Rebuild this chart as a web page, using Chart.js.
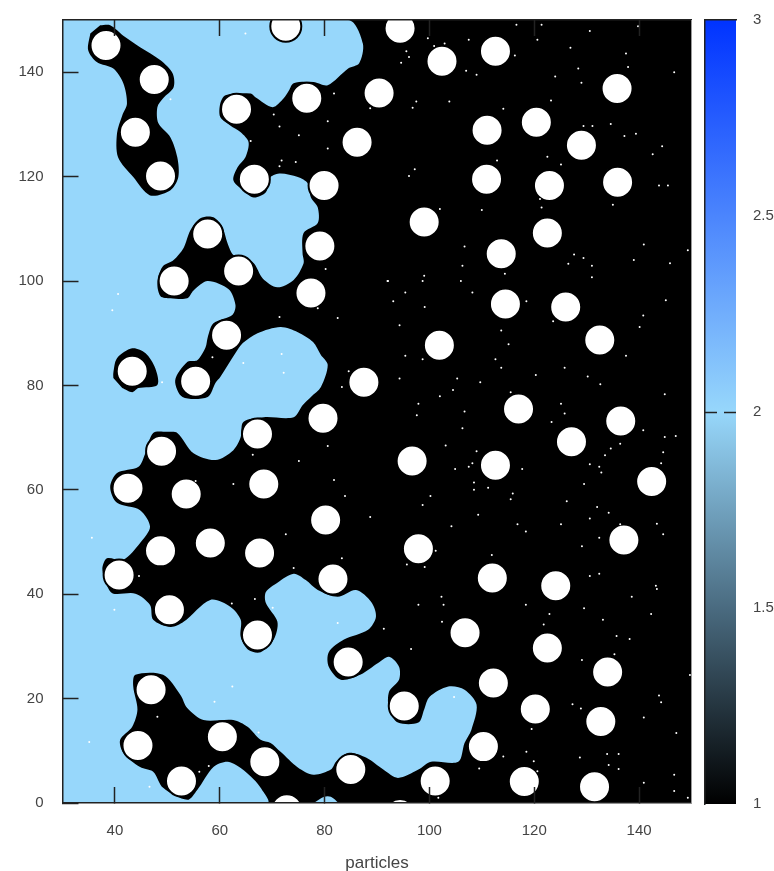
<!DOCTYPE html>
<html>
<head>
<meta charset="utf-8">
<style>
  html, body { margin: 0; background: #fff; overflow: hidden; }
  #wrap { position: relative; width: 774px; height: 871px; overflow: hidden; }
  #plot { position: absolute; left: 0; top: 0; }
  #bar { position: absolute; left: 690px; top: 0; }
</style>
<script src="https://cdn.jsdelivr.net/npm/chart.js@4/dist/chart.umd.min.js"></script>
</head>
<body>
<div id="wrap">
  <canvas id="plot" width="709" height="871" style="width:709px;height:871px"></canvas>
  <canvas id="bar" width="84" height="871" style="width:84px;height:871px"></canvas>
</div>
<script>
const xTicks = [40, 60, 80, 100, 120, 140];
const yTicks = [0, 20, 40, 60, 80, 100, 120, 140];
const barTicks = [1, 1.5, 2, 2.5, 3];
const barStops = [1, 1.5, 2, 2.5, 3];
const barColors = ['#000000', '#4a6b80', '#97d7fb', '#4b85fd', '#0033ff'];

// corners of the field, value 1 everywhere unless covered
const fieldCorners = [[30,0],[150,0],[150,150],[30,150]];

// outline of the value 2 region
const mainRegion = [
  [30,150],[84.5,150],[87.3,145.5],[86.6,141.7],[84.5,140.7],[80.6,137.5],[77.9,138.1],[74.1,137.9],[73.2,136.5],[72.2,135],
  [70.1,133.3],[66.8,135.2],[65.9,135.9],[61.1,135.6],[60.1,134],[60.1,131.4],[62,129.8],[64,128.5],[65.5,126.6],[64.9,123.7],
  [63.4,121.8],[62.6,119.3],[64.4,117.4],[66.5,116],[68.8,117],[69.7,119.9],[71.6,120.6],[74.9,119.9],[76.8,118.7],[77.4,116],
  [78.7,114.1],[78.7,111.1],[76,109.2],[75.8,105.3],[76,103.4],[74.1,100.2],[71,98.8],[68.2,100.5],[66.5,103.4],[64.5,104.6],
  [62.6,105],[61.5,107.2],[60.5,110.3],[58.8,112.2],[56.3,112],[54.4,109.7],[53.1,106.3],[51.2,104],[49.05,102.7],[48.1,99.6],
  [48.7,97.1],[50.6,96.7],[53.8,96.7],[55,98.2],[57.7,100],[61.7,98.4],[63,95.4],[62.4,93.5],[58.8,91.9],[57.7,89.2],
  [57.3,87.3],[55.7,84.8],[53.8,84.5],[51.5,81],[52.9,77.8],[57.7,77.8],[59.2,80.5],[60.1,81.6],[63,86.2],[64.4,88.1],
  [67.2,90],[71.6,91.2],[74.9,90.2],[77.8,88.3],[79.3,85.8],[80.6,83.9],[79.3,79.7],[77.4,77.8],[75.8,76.2],[74.1,73.9],
  [68.4,73.9],[64.5,73],[64,70.1],[62.6,67.6],[59.2,65.7],[55,67],[51.9,70.9],[50,71.1],[47.3,70.9],[45.8,67],
  [44.5,64.4],[40.4,63.2],[39.1,60.5],[40.4,57.5],[44.8,56.1],[46.7,52.9],[44.8,49.8],[41.6,46.6],[38.5,46.9],[37.6,45],
  [38.1,42.7],[39.5,40.2],[43.9,40.1],[46.7,37.95],[47.3,35.1],[50.6,33.7],[53.1,34.7],[58.2,38.9],[62,37.6],[64,35.1],
  [64,31.8],[65.5,29.3],[67.8,28.9],[70.3,31.3],[71,34.7],[68.8,38.3],[68.8,40.4],[71,42.2],[74.1,43.9],[76.4,42.7],
  [78.7,40.8],[82.5,39.5],[86,40.8],[88.9,38.5],[89.8,35.7],[88.3,33.2],[83.7,31.3],[80.8,28.9],[80.8,26.1],[83.1,23.6],
  [86.9,24.6],[90.2,26.8],[92.3,28],[94.2,26.1],[94.2,23.6],[92.3,21.3],[92.3,17.9],[94,15.4],[97.9,15.4],[99,17.9],
  [100,20.3],[103.6,22.3],[106.7,21.7],[109,18.8],[108,14],[106.7,11.5],[105.5,7.9],[100.3,7.9],[97.9,6.4],[94,4.8],
  [91.2,6.4],[87.9,8.7],[84.5,9.6],[82.2,7.9],[81.2,6.4],[77.9,5.4],[74.9,6.8],[71.6,9.8],[69.7,11.5],[67.8,12.1],
  [65.3,14.6],[62.6,15.9],[56.9,15.9],[53.8,18.2],[52.5,20.7],[49.2,24.55],[43.9,24.55],[43.5,22.3],[44.3,17.9],[43.3,14.6],
  [41,12.1],[41.6,9.6],[44.8,6.9],[47.3,6],[49.2,2.9],[53.8,0.6],[55.7,2.5],[58.8,6.9],[61.5,7.9],[64,6.7],
  [66.5,4.5],[67.8,2.9],[69.1,0],[30,0]
];
const smallRegion = [[77.9,0],[79.9,1.2],[81.2,1.2],[82.7,0]];

// islands of value 1 inside the region
const islandTop = [
  [37.2,149],[39.1,149],[41.6,147],[44.8,144.8],[48.7,142.3],[51,139.8],[51.2,137.1],[49.2,135],[48.1,133.3],[48.3,130.2],
  [50.6,127.5],[51.9,123.7],[52.1,119.9],[50.6,117.4],[46.7,116.4],[43.5,119.9],[40.6,123.7],[40.4,128.3],[41.4,131.7],[42.3,134],
  [41.6,137.9],[39.7,140.7],[36.6,141.9],[34.9,144.2],[35.3,147.4]
];
const islandMid = [[39.7,81.4],[39.7,82.4],[40.4,85.2],[43.3,87.1],[45.8,86.2],[47.7,83.3],[48.1,80.1],[44.5,79.5],[43.3,78.7],[41.4,79.5]];

const particles = [
  [38.3,145.1],[47.5,138.6],[43.9,128.5],[48.7,120.1],[72.6,148.8],[94.4,148.4],[102.4,142.1],[112.6,144],[135.8,136.9],[90.4,136],
  [76.6,135],[63.2,132.9],[86.2,126.6],[111,128.9],[120.4,130.4],[129,126],[110.9,119.5],[122.9,118.3],[135.9,118.9],[66.6,119.5],
  [79.9,118.3],[99,111.3],[57.7,109],[122.5,109.2],[79.1,106.7],[113.7,105.2],[63.6,101.9],[51.3,100],[77.4,97.7],[114.5,95.6],
  [126,95],[61.3,89.6],[132.5,88.7],[101.9,87.7],[43.3,82.7],[55.4,80.8],[87.5,80.6],[117,75.5],[79.7,73.7],[136.5,73.2],
  [67.2,70.7],[127.1,69.2],[48.9,67.4],[96.7,65.5],[112.6,64.7],[142.4,61.6],[42.5,60.3],[53.6,59.2],[68.4,61.1],[80.2,54.2],
  [58.2,49.8],[48.7,48.3],[67.6,47.9],[97.9,48.7],[137.1,50.4],[40.8,43.7],[112,43.1],[81.6,42.9],[124.1,41.6],[50.4,37],
  [106.8,32.6],[67.2,32.2],[122.5,29.7],[84.5,27],[134,25.1],[46.9,21.7],[112.2,23],[95.2,18.6],[120.2,18],[132.7,15.6],
  [60.5,12.7],[44.4,11],[110.3,10.8],[68.6,7.9],[85,6.4],[52.7,4.2],[101.1,4.2],[118.1,4.1],[131.5,3.1],[72.8,-1.3],[94.4,-2.2]
];

const specks = [
  [116.6,149.1],[121.4,149.1],[130.6,147.9],[139.8,148.8],[99.7,146.5],[107.5,146.2],[120.6,146.2],[102.9,145.5],[100.9,145],[95.6,144],
  [96.1,142.9],[94.6,141.8],[116.3,143.2],[126.9,144.7],[137.5,143.6],[137.9,141],[128.4,140.7],[107,140.3],[109,139.5],[124,139.2],
  [129,138],[97.5,134.4],[103.8,134.4],[96.8,133.2],[123.2,134.6],[114.1,133],[129.4,129.7],[131.1,129.7],[134.6,130.1],[137.2,127.8],
  [139.4,128.2],[122.5,123.8],[125.1,122.3],[112.9,123.1],[97.2,121.4],[96.1,120.1],[121.1,115.7],[135,114.6],[121.4,114.1],[102,113.8],
  [110,113.6],[140.9,107],[106.7,106.6],[127.6,105.1],[129.4,104.4],[139,104],[126.5,103.3],[131,102.9],[106.3,102.9],[114.4,101.4],
  [99,101],[131,100.7],[92,100],[98.7,100],[106,100],[95.4,97.8],[108.2,97.8],[93.1,96.1],[118.5,96.1],[99.1,95],
  [94.3,91.5],[113.7,90.5],[123.6,92.3],[140.8,93.4],[140.1,91.2],[115.1,87.9],[95.4,85.7],[98.7,85],[112.6,85],[137.5,85.7],
  [113.7,83.4],[125.8,83.4],[120.3,82],[130.2,81.7],[94.3,81.3],[105.3,81.3],[109.7,80.6],[132.6,80.2],[104.5,79.1],[102,77.9],
  [115.5,78.7],[97.9,76.5],[125.1,76.5],[106.7,75],[97.6,74.3],[125.8,74.6],[123.3,73],[106.3,71.8],[140.8,71.4],[103.1,68.5],
  [136.4,68.8],[134.6,67.9],[109,67.4],[133.5,66.6],[130.6,64.9],[108.2,65.1],[107.5,64.4],[104.9,64],[117.7,64],[132.4,64.4],
  [132.8,63.3],[108.5,61.4],[129.5,61.1],[108.5,60],[111.2,60.4],[115.9,59.3],[100.2,58.8],[115.5,58.2],[126.2,57.8],[98.7,57.1],
  [132,56.7],[134.2,55.6],[109.3,55.2],[130.6,54.5],[116.8,53.4],[125.1,53.4],[104.2,53],[136.4,53.4],[118.4,52],[132.4,50.8],
  [129.1,49.2],[101.2,48.3],[111.9,47.5],[95.7,45.7],[99.1,45.2],[132.4,43.9],[130.6,43.5],[102.3,39.5],[138.6,39.5],[97.9,38],
  [102.7,38],[118.4,38],[129.5,37.3],[122.9,36.2],[142.3,36.2],[133.1,35.1],[121.8,34.2],[135.7,32],[138.2,31.4],[135.3,28.5],
  [129.1,27.4],[149.7,24.5],[143.8,20.6],[144.2,19.3],[127.3,18.9],[128.9,18.1],[140.9,16.4],[119.5,14.2],[147.1,13.4],[114.1,8.9],
  [118.5,9.8],[133.9,9.4],[136.1,9.4],[128.7,8.7],[119.9,8],[134.2,7.3],[136.1,6.5],[120.6,6.1],[146.7,5.4],[140.9,3.9],
  [146.7,2.3],[149.3,1],[146.7,140],[144.4,125.8],[142.6,124.3],[143.8,118.3],[145.5,118.3],[149.3,105.9],[145.9,103.4],[145.1,96.3],
  [144.9,78.3],[144.9,70.1],[147,70.3],[144.6,67.2],[144.2,65.1],[143.4,53.5],[144.6,51.5],[143.2,41.6],[143.4,41],
  [64.9,147.4],[81.8,135.9],[88.7,133.1],[70.3,131.9],[80.6,130.6],[71.4,129.6],[75.1,127.9],[80.6,125.4],[71.8,123.1],[74.5,122.8],
  [71.4,122],[65.9,126.8],[80.2,102.3],[92.1,100],[71.4,93.1],[82.5,92.9],[78.7,94.8],[58.6,85.4],[64.5,84.3],[71.8,86],
  [72.2,82.4],[84.6,82.7],[83.3,79.7],[80.6,68.4],[75.1,65.5],[66.3,66.7],[62.6,61.1],[81.8,61.9],[83.9,58.8],[88.7,54.8],
  [72.6,51.5],[83.3,46.9],[74.1,45],[102.4,34.7],[91.3,33.4],[96.5,29.5],[82.5,34.5],[70.1,37.4],[104.7,20.3],[109.5,6.6],
  [101.7,1],[40.6,97.5],[39.5,94.4],[49,80.6],[35.6,50.8],[44.6,43.5],[55.4,61.7],[39.9,37],[62.4,22.3],[59,19.4],
  [48.1,16.5],[35.1,11.7],[57.9,7.1],[56.1,6],[46.6,3.1],[67.4,13.5],[62.3,38.2],[66.7,39.1],[50.6,134.8]
];

const BLUE = '#97d7fb';
const AXIS = '#222222';
const LABEL = '#444444';
const FONT = 'Liberation Sans';

function toPoints(lista) {
  return lista.map(function (p) { return { x: p[0], y: p[1] }; });
}

function regiao(lista, cor, curva) {
  return {
    data: toPoints(lista),
    showLine: true,
    fill: 'shape',
    tension: curva,
    backgroundColor: cor,
    borderWidth: 0,
    pointRadius: 0
  };
}

// the axis sizes are fixed by hand, no extra room for the labels
function semPadding(s) {
  s.paddingLeft = 0;
  s.paddingRight = 0;
  s.paddingTop = 0;
  s.paddingBottom = 0;
}

// first dataset is painted last
new Chart(document.getElementById('plot'), {
  type: 'scatter',
  data: {
    datasets: [
      { data: toPoints(specks), pointRadius: 1, pointBackgroundColor: '#fff', pointBorderWidth: 0 },
      { data: toPoints(particles), pointRadius: 15.5, pointBackgroundColor: '#fff', pointBorderColor: '#000', pointBorderWidth: 2 },
      regiao(smallRegion, BLUE, 0.3),
      regiao(islandMid, '#000', 0.3),
      regiao(islandTop, '#000', 0.3),
      regiao(mainRegion, BLUE, 0.3),
      regiao(fieldCorners, '#000', 0)
    ]
  },
  options: {
    responsive: false,
    animation: false,
    events: [],
    layout: { padding: 0 },
    plugins: { legend: { display: false }, tooltip: { enabled: false } },
    scales: {
      x: {
        type: 'linear', position: 'bottom', min: 30, max: 150,
        afterBuildTicks: function (s) { s.ticks = xTicks.map(function (v) { return { value: v }; }); },
        afterFit: function (s) { s.height = 68; semPadding(s); },
        ticks: { padding: 35, maxRotation: 0, color: LABEL, font: { family: FONT, size: 15 } },
        grid: { drawOnChartArea: false, tickLength: -16, tickColor: AXIS, tickWidth: 1.5, z: 1 },
        border: { color: AXIS, width: 1.5, z: 1 },
        title: { display: true, text: 'particles', color: LABEL, font: { family: FONT, size: 17 }, padding: { top: 0, bottom: -3 } }
      },
      xTop: {
        type: 'linear', position: 'top', axis: 'x', min: 30, max: 150,
        afterBuildTicks: function (s) { s.ticks = xTicks.map(function (v) { return { value: v }; }); },
        afterFit: function (s) { s.height = 20; semPadding(s); },
        ticks: { display: false },
        grid: { drawOnChartArea: false, tickLength: -16, tickColor: AXIS, tickWidth: 1.5, z: 1 },
        border: { color: AXIS, width: 1.5, z: 1 }
      },
      y: {
        type: 'linear', position: 'left', min: 0, max: 150,
        afterBuildTicks: function (s) { s.ticks = yTicks.map(function (v) { return { value: v }; }); },
        afterFit: function (s) { s.width = 62.5; semPadding(s); },
        ticks: { padding: 35, color: LABEL, font: { family: FONT, size: 15 } },
        grid: { drawOnChartArea: false, tickLength: -16, tickColor: AXIS, tickWidth: 1.5, z: 1 },
        border: { color: AXIS, width: 1.5, z: 1 }
      },
      yRight: {
        type: 'linear', position: 'right', axis: 'y', min: 0, max: 150,
        afterFit: function (s) { s.width = 2; semPadding(s); },
        ticks: { display: false },
        grid: { display: false },
        border: { color: '#999999', width: 1, z: 1 }
      }
    }
  }
});

// color box
new Chart(document.getElementById('bar'), {
  type: 'bar',
  data: {
    labels: ['cb'],
    datasets: [{
      data: [[barStops[0], barStops[barStops.length - 1]]],
      barPercentage: 1,
      categoryPercentage: 1,
      borderWidth: 0,
      backgroundColor: function (ctx) {
        const chart = ctx.chart;
        if (!chart.chartArea) return '#000';
        const sy = chart.scales.y;
        const top = sy.getPixelForValue(3);
        const bottom = sy.getPixelForValue(1);
        const g = chart.ctx.createLinearGradient(0, bottom, 0, top);
        barStops.forEach(function (v, i) {
          g.addColorStop((v - 1) / 2, barColors[i]);
        });
        return g;
      }
    }]
  },
  options: {
    responsive: false,
    animation: false,
    events: [],
    layout: { padding: { left: 0, top: 0, bottom: 67, right: 0 } },
    plugins: { legend: { display: false }, tooltip: { enabled: false } },
    scales: {
      x: {
        position: 'top',
        afterFit: function (s) { s.height = 20; semPadding(s); },
        ticks: { display: false },
        grid: { display: false, drawTicks: false },
        border: { color: AXIS, width: 1.5, z: 1 }
      },
      yLeft: {
        type: 'linear', position: 'left', axis: 'y', min: 1, max: 3,
        afterFit: function (s) { s.width = 15; semPadding(s); },
        afterBuildTicks: function (s) { s.ticks = [{ value: 2 }]; },
        ticks: { display: false },
        grid: { drawOnChartArea: false, tickLength: -12, tickColor: AXIS, tickWidth: 1.5, z: 1 },
        border: { color: AXIS, width: 1.5, z: 1 }
      },
      y: {
        type: 'linear', position: 'right', min: 1, max: 3,
        afterBuildTicks: function (s) { s.ticks = barTicks.map(function (v) { return { value: v }; }); },
        afterFit: function (s) { s.width = 38; semPadding(s); },
        ticks: {
          padding: 29,
          color: LABEL,
          font: { family: FONT, size: 15 },
          callback: function (v) { return String(v); }
        },
        grid: {
          drawOnChartArea: false,
          tickLength: -12,
          tickWidth: 1.5,
          tickColor: function (ctx) { return ctx.tick && ctx.tick.value === 2 ? AXIS : 'rgba(0,0,0,0)'; },
          z: 1
        },
        border: { display: false }
      }
    }
  }
});
</script>
</body>
</html>
